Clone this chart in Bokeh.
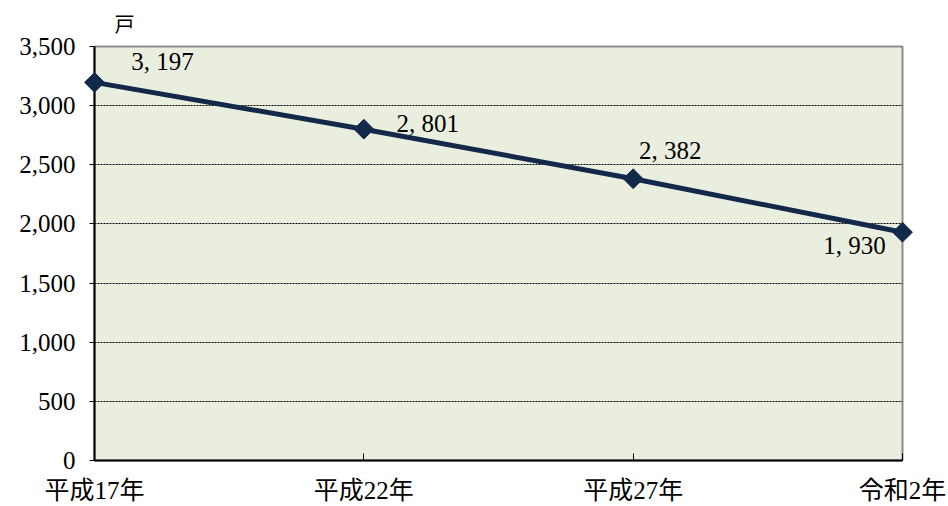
import math
from bokeh.plotting import figure
from bokeh.models import ColumnDataSource, Label, FixedTicker, Range1d
from bokeh.embed import file_html
from bokeh.resources import INLINE

categories = ["平成17年", "平成22年", "平成27年", "令和2年"]
households = [3197, 2801, 2382, 1930]
y_ticks = [0, 500, 1000, 1500, 2000, 2500, 3000, 3500]
unit_label = "戸"
# label offsets (screen px) for each data label
label_dx = [68, 64, 37, -48]
label_dy = [21, 6, 28, -13]

FONT = "Liberation Serif, Noto Sans CJK JP"
LINE_COLOR = "#13294a"

xs = list(range(len(categories)))
src = ColumnDataSource(dict(x=xs, y=households))

p = figure(width=948, height=506, output_backend="svg", toolbar_location=None,
           x_range=Range1d(0, len(categories) - 1), y_range=Range1d(0, 3500),
           min_border_left=94, min_border_right=46, min_border_top=46, min_border_bottom=44,
           title=unit_label)

p.title.text_font = FONT
p.title.text_font_size = "20px"
p.title.text_font_style = "normal"
p.title.text_color = "black"
p.title.align = "left"
p.title.offset = 20
p.title.standoff = 21

p.border_fill_color = "white"
p.background_fill_color = "#eaeedf"
p.outline_line_color = "#8c8c8c"
p.outline_line_width = 2

p.xgrid.visible = False
p.ygrid.ticker = FixedTicker(ticks=y_ticks)
p.ygrid.grid_line_color = "black"
p.ygrid.grid_line_dash = "2 1"
p.ygrid.grid_line_width = 1

p.xaxis.ticker = FixedTicker(ticks=xs)
p.xaxis.major_label_overrides = {i: c for i, c in enumerate(categories)}
p.xaxis.minor_tick_line_color = None
p.xaxis.major_tick_in = 7
p.xaxis.major_tick_out = 0
p.xaxis.major_label_standoff = 16
p.xaxis.axis_line_color = "black"
p.xaxis.axis_line_width = 2
p.xaxis.major_tick_line_color = "black"
p.xaxis.major_label_text_font = FONT
p.xaxis.major_label_text_font_size = "25px"
p.xaxis.major_label_text_color = "black"

p.yaxis.ticker = FixedTicker(ticks=y_ticks)
p.yaxis.major_label_overrides = {t: f"{t:,}" for t in y_ticks}
p.yaxis.minor_tick_line_color = None
p.yaxis.major_tick_in = 0
p.yaxis.major_tick_out = 5
p.yaxis.major_label_standoff = 14
p.yaxis.axis_line_color = "black"
p.yaxis.axis_line_width = 2
p.yaxis.major_tick_line_color = "black"
p.yaxis.major_label_text_font = FONT
p.yaxis.major_label_text_font_size = "25px"
p.yaxis.major_label_text_color = "black"

p.line("x", "y", source=src, line_color=LINE_COLOR, line_width=5)
p.scatter("x", "y", source=src, marker="square", size=14, angle=math.pi / 4,
          fill_color=LINE_COLOR, line_color=LINE_COLOR, level="overlay")

for x, v, dx, dy in zip(xs, households, label_dx, label_dy):
    p.add_layout(Label(x=x, y=v, x_offset=dx, y_offset=dy, text=f"{v:,}".replace(",", ", "),
                       text_font=FONT, text_font_size="25px", text_color="black",
                       text_align="center", text_baseline="middle"))

open("out.html", "w").write(file_html(p, INLINE))
